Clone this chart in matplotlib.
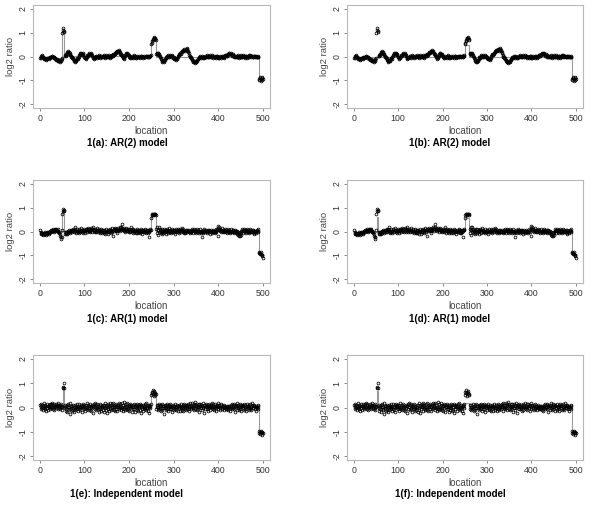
import numpy as np
import matplotlib
matplotlib.use("Agg")
from matplotlib import pyplot as plt

plt.rcParams['font.family'] = ['Liberation Sans', 'DejaVu Sans']

location = np.arange(1, 501)

# log2 ratio, in hundredths (10 locations per row)
ar2_data = [
    -5, -8, -3, 2, 5, 3, 0, -4, -8, -10,
    -12, -9, -6, -10, -13, -11, -8, -5, -7, -10,
    -8, -4, -2, -5, -3, 0, 3, 1, -2, -4,
    -6, -3, -1, -5, -9, -12, -15, -13, -10, -14,
    -18, -20, -17, -14, -19, -22, -18, -15, -12, -8,
    100, 112, 118, 108, 104, 3, 6, 2, 8, 12,
    15, 20, 18, 22, 17, 12, 14, 10, 6, 3,
    0, -4, -8, -6, -10, -15, -19, -22, -20, -17,
    -14, -18, -12, -8, -5, -9, -3, 2, 6, 10,
    13, 16, 12, 8, 11, 15, 10, 5, 0, -4,
    -8, -5, -10, -6, -2, 2, 6, 3, 8, 11,
    14, 10, 7, 12, 15, 9, 5, 1, -3, -6,
    -9, -5, -8, -3, 0, 4, 1, -4, -7, -2,
    2, 6, 3, -1, -5, -3, 1, 4, 0, -4,
    -2, 2, 5, 1, -3, -6, -2, 3, 7, 4,
    0, -4, -1, 3, 6, 2, -2, -5, -1, 4,
    8, 5, 1, 4, 9, 12, 8, 11, 15, 18,
    14, 17, 21, 24, 20, 23, 26, 22, 18, 15,
    12, 8, 10, 6, 2, -2, -6, -10, -7, -3,
    2, 6, 10, 13, 15, 12, 8, 11, 7, 3,
    0, -4, -8, -5, -1, 3, 0, -4, -7, -3,
    1, 5, 2, -2, -5, -8, -4, 0, 3, -1,
    -4, -1, 2, -2, -5, -2, 1, 4, 1, -3,
    -6, -3, 0, 3, 0, -3, -1, 2, 4, 1,
    -2, 0, 3, 1, -2, 0, 2, 4, 6, 52,
    58, 63, 68, 72, 76, 79, 82, 78, 74, 70,
    10, 14, 12, 8, 13, 16, 11, 6, 2, -2,
    -6, -10, -14, -18, -21, -17, -20, -24, -20, -16,
    -12, -8, -4, -7, -2, 2, 5, 1, -3, -1,
    3, 6, 2, -2, 1, 5, 2, -3, -7, -4,
    -8, -12, -9, -5, -10, -14, -11, -7, -3, 1,
    5, 9, 6, 11, 15, 12, 17, 21, 18, 22,
    26, 23, 28, 31, 27, 24, 29, 33, 36, 31,
    27, 22, 18, 13, 8, 4, 0, -4, -8, -5,
    -10, -14, -18, -22, -19, -24, -27, -23, -19, -25,
    -21, -17, -13, -9, -12, -7, -3, -6, -2, 1,
    -3, -6, -2, 2, -1, -4, -8, -5, -1, 3,
    0, -4, -1, 3, 6, 3, -1, -4, 0, 4,
    7, 4, 0, -3, 1, 5, 2, -2, -5, -1,
    3, 0, -4, -7, -3, 1, 4, 1, -2, -5,
    -8, -5, -2, 2, -1, -4, -7, -3, 1, 4,
    0, -3, -6, -2, 2, 5, 8, 5, 1, 4,
    8, 12, 9, 13, 16, 12, 9, 13, 10, 6,
    3, 7, 11, 8, 4, 0, -3, 1, 4, 0,
    -4, -1, 3, 6, 2, -2, -5, -1, 3, 6,
    3, -1, -4, -1, 2, 5, 2, -2, -5, -2,
    1, 4, 1, -3, -6, -2, 2, 5, 2, -1,
    2, 5, 1, -2, 1, 4, 0, -3, -1, 2,
    4, 1, -2, 0, 3, 0, -3, -1, 2, -2,
    -95, -100, -92, -88, -96, -102, -98, -90, -87, -93,
]

ar1_data = [
    5, -3, -8, -12, -6, -10, -14, -9, -5, -11,
    -7, -2, -9, -13, -8, -4, -10, -6, -1, -5,
    -9, -3, 2, -4, 0, 5, 1, 6, 10, 4,
    8, 3, -2, 5, 9, 12, 7, 2, 6, 11,
    4, -3, -8, -2, -12, -18, -25, -32, -22, 5,
    72, 86, 95, 92, 88, -4, -10, -6, -12, -3,
    -9, 0, -5, 4, -2, 6, 1, -6, 3, 8,
    2, -4, 5, 10, 3, -3, 7, 12, 20, 6,
    0, -7, 4, 9, -2, 3, -5, 6, 11, 2,
    -4, 7, 13, 5, -1, 8, 2, -6, 4, 10,
    3, -5, 6, 12, 4, -2, 9, 15, 7, 1,
    10, 4, -3, 8, 14, 6, 0, 11, 17, 9,
    2, 8, -1, 5, 12, 3, -4, 7, 16, 6,
    -2, 4, 10, 1, -6, 3, 9, -3, 5, -8,
    -2, 6, -5, 2, 8, -1, -9, 4, 10, 3,
    -4, -12, 0, 7, -3, 5, 11, 2, -6, 8,
    13, 4, -3, -18, 6, 12, 3, 9, 15, 7,
    1, 10, 4, -5, 8, 14, 5, 11, 18, 9,
    3, 12, 20, 30, 14, 6, 10, 2, 8, 15,
    5, -2, 9, 16, 7, 1, 10, 4, -3, 6,
    12, 3, -4, 8, 20, 9, 2, -5, 6, 11,
    3, -3, 7, 1, -6, 4, 10, 2, -8, 5,
    -2, 6, 0, -7, 3, 9, 1, -4, 5, -10,
    2, 8, -3, 4, -1, 7, 12, 3, -5, 6,
    0, -8, 5, -3, -25, 2, 8, 12, 6, 55,
    68, 72, 74, 71, 73, 70, 75, 72, 74, 71,
    12, -8, 18, 5, -15, 8, 20, -3, 10, 2,
    -5, 6, 0, -12, 9, 3, -6, 12, 4, -3,
    8, 1, -9, 5, 11, 0, -7, 6, 13, 2,
    -4, 8, -1, 4, -6, 10, 3, -3, 7, 0,
    5, -2, -10, 3, 9, -4, 2, 8, -1, 11,
    4, -5, 6, 12, 2, -3, 8, 15, 5, -2,
    10, 3, -6, 4, 0, -8, 2, 7, -2, 5,
    -4, 1, 8, -3, 4, -6, 0, 6, -2, 3,
    9, 2, -5, 5, 12, 3, -4, 7, 1, -7,
    4, 10, 2, -3, 8, 1, -6, 3, 9, -1,
    -8, 2, -4, -25, 5, 0, -6, 4, 10, 3,
    -3, 6, 1, -5, 3, 8, 2, -4, 5, -2,
    -9, 1, 6, -2, 3, -5, 0, 7, 2, -4,
    4, -1, -8, 2, 9, -3, 5, 12, -18, 25,
    18, 9, 3, 12, 6, -2, 8, 14, 4, -1,
    7, 2, -4, 5, 11, 3, -2, 8, 1, -6,
    4, 10, 2, -3, 6, 0, -5, 3, 9, 1,
    -4, 5, -1, 6, 0, -7, 2, 8, -2, 3,
    -6, 1, -10, -4, -15, -20, -12, -18, -8, -14,
    -3, 4, 10, 2, -5, 6, 12, 3, -2, 8,
    1, -6, 5, 11, 3, -3, 7, 0, -8, 4,
    9, 2, -4, 6, -1, 3, 8, -2, 5, -5,
    -10, 2, -3, 4, -6, 1, 7, -4, 12, 3,
    -85, -92, -95, -90, -88, -96, -100, -98, -104, -110,
]

indep_data = [
    12, -8, 4, 15, -3, 9, -12, 6, 18, 0,
    -6, 10, 3, -14, 8, 14, -2, 5, -9, 11,
    2, 16, -5, 7, 13, -1, 19, 4, -7, 10,
    15, 1, -10, 8, 3, 14, -4, 11, 6, -8,
    9, 17, -2, 5, 12, -6, 3, 16, -11, 7,
    2, 80, 86, 100, 82, -3, 12, -15, 6, -8,
    10, -20, 4, 14, -10, 2, -6, 18, -27, 8,
    -4, -14, 6, -9, 11, -2, -17, 3, 9, -12,
    5, -7, 13, -3, 1, -15, 8, 16, -5, 4,
    -10, 10, 2, -18, 7, 14, -1, 5, -8, 12,
    3, -13, 9, 0, 17, -6, 4, -11, 11, 6,
    -3, 15, -9, 2, 8, -16, 12, -4, 7, -22,
    5, 13, -7, 1, 18, -12, 9, -2, 14, -5,
    6, -18, 3, 11, -8, 16, 0, -14, 7, 4,
    -10, 12, 2, -20, 9, -4, 17, -12, 5, -24,
    10, -6, 15, 3, -15, 8, 20, -3, 12, -9,
    4, 14, -7, 1, 18, -11, 6, -16, 11, 2,
    -5, 16, 7, -13, 3, 10, -8, 19, -2, 6,
    13, -10, 4, 17, -4, 9, -15, 2, 21, -7,
    8, -12, 14, 3, -6, 18, 0, -10, 11, 5,
    -14, 7, 15, -2, 10, -18, 4, 12, -8, 1,
    16, -5, 6, -20, 9, 2, -12, 13, -3, 7,
    -16, 11, 3, -9, 14, -22, 5, 10, -6, 1,
    12, -13, 8, -3, 15, -8, 2, 17, -10, 6,
    -4, 11, -15, 4, 9, -21, 7, -2, 13, 50,
    65, 58, 70, 55, 62, 48, 68, 60, 52, 57,
    -6, 9, 2, -12, 12, 4, -8, 14, -3, 7,
    -15, 10, 0, -9, 16, -4, 6, -25, 8, -1,
    12, -11, 3, 9, -6, 15, -2, -14, 6, 11,
    -8, 2, 13, -5, 7, -17, 4, 10, -3, 8,
    -12, 5, 14, -7, 1, -10, 9, 3, -15, 6,
    11, -4, 2, -13, 8, 15, -2, 4, -9, 12,
    0, -16, 7, 13, -5, 3, 10, -11, 5, -3,
    9, -8, 14, 2, -14, 6, 18, -1, 11, -6,
    4, 20, -3, 9, 15, -9, 22, 5, -5, 12,
    7, -12, 16, 1, -6, 13, 3, -18, 8, 14,
    -2, 10, -10, 5, 17, -4, 2, -22, 9, 12,
    -5, 6, 15, -8, 3, 11, -1, -13, 7, 16,
    2, -9, 10, 4, -4, 19, 8, -6, 13, 1,
    -11, 7, 14, -3, 5, -15, 11, 2, 18, -7,
    6, 12, -4, 3, -9, 9, 15, 0, -6, 8,
    2, -12, 6, 10, -3, 4, -8, 1, 7, -5,
    -2, 5, -10, 3, 8, -4, -14, 1, 11, -7,
    13, 4, -2, 10, 15, -6, 8, -18, 12, 3,
    -9, 6, 17, -1, 10, -12, 4, 14, -5, 9,
    1, -16, 7, 12, -3, 5, -10, 15, 2, -7,
    11, 4, -13, 8, 16, -2, 6, -9, 10, 1,
    -5, 13, 3, -11, 7, 18, -4, 9, -1, 5,
    12, -7, 4, -14, 8, 2, -3, 10, -8, 6,
    -98, -104, -100, -108, -96, -102, -106, -100, -115, -103,
]

# fitted segments: (first location, last location, level)
segs_a = [(1, 50, -0.06), (51, 55, 1.05), (56, 249, 0.02), (250, 260, 0.70), (261, 490, 0.0), (491, 500, -0.94)]
segs_b = [(1, 249, 0.0), (250, 260, 0.48), (261, 490, 0.0), (491, 500, -0.95)]
segs_c = [(1, 50, -0.02), (51, 55, 0.86), (56, 249, 0.03), (250, 260, 0.71), (261, 490, 0.01), (491, 500, -0.96)]
segs_d = [(1, 51, -0.01), (52, 55, 0.60), (56, 249, 0.03), (250, 260, 0.58), (261, 490, 0.01), (491, 500, -0.95)]
segs_e = [(1, 51, 0.03), (52, 55, 0.87), (56, 249, 0.0), (250, 260, 0.59), (261, 490, 0.01), (491, 500, -1.03)]
segs_f = [(1, 51, 0.03), (52, 55, 0.66), (56, 249, 0.0), (250, 260, 0.20), (261, 490, 0.01), (491, 500, -1.02)]

titles = ["1(a): AR(2) model", "1(b): AR(2) model",
          "1(c): AR(1) model", "1(d): AR(1) model",
          "1(e): Independent model", "1(f): Independent model"]

panels = [(ar2_data, segs_a), (ar2_data, segs_b),
          (ar1_data, segs_c), (ar1_data, segs_d),
          (indep_data, segs_e), (indep_data, segs_f)]

W, H = 600, 513
# axes boxes in pixels: left..right, top..bottom
col_x = [(33, 270), (347, 583)]
row_y = [(5, 108), (180, 283), (355, 460)]
title_x = [127, 450]
title_y = [143, 319, 494]

fig = plt.figure(figsize=(6, 5.13), dpi=100)
txt_col = '#333333'

for i, ((data, segs), title) in enumerate(zip(panels, titles)):
    r, c = divmod(i, 2)
    x0, x1 = col_x[c]
    y0, y1 = row_y[r]
    ax = fig.add_axes([x0 / W, 1 - y1 / H, (x1 - x0) / W, (y1 - y0) / H])

    y = np.array(data) / 100.0
    fit = np.zeros(len(location))
    for a, b, lev in segs:
        fit[(location >= a) & (location <= b)] = lev

    ax.plot(location, fit, drawstyle='steps-mid', color='#9a9a9a', lw=0.8, zorder=1)
    ax.plot(location, y, 'o', ms=2.0, mfc='none', mec='black', mew=0.55, zorder=2)

    ax.set_xlim(-15, 516)
    ax.set_ylim(-2.16, 2.16)
    ax.set_xticks([0, 100, 200, 300, 400, 500])
    ax.set_yticks([-2, -1, 0, 1, 2])
    ax.set_yticklabels(['-2', '-1', '0', '1', '2'], rotation=90, va='center')
    ax.tick_params(length=2.5, width=0.6, color='#777777', labelsize=6.3,
                   labelcolor=txt_col, pad=1.5)
    for s in ax.spines.values():
        s.set_color('#b8b8b8')
        s.set_linewidth(0.8)

    ax.set_xlabel('location', fontsize=7, color='#444444')
    ax.xaxis.set_label_coords(0.5, -0.175)
    ax.set_ylabel('log2 ratio', fontsize=6.8, color='#444444')
    ax.yaxis.set_label_coords(-0.075, 0.5)

    fig.text(title_x[c] / W, 1 - title_y[r] / H, title,
             ha='center', va='center', fontsize=7, fontweight='bold', color='black')

fig.savefig('out.png', dpi=100)
